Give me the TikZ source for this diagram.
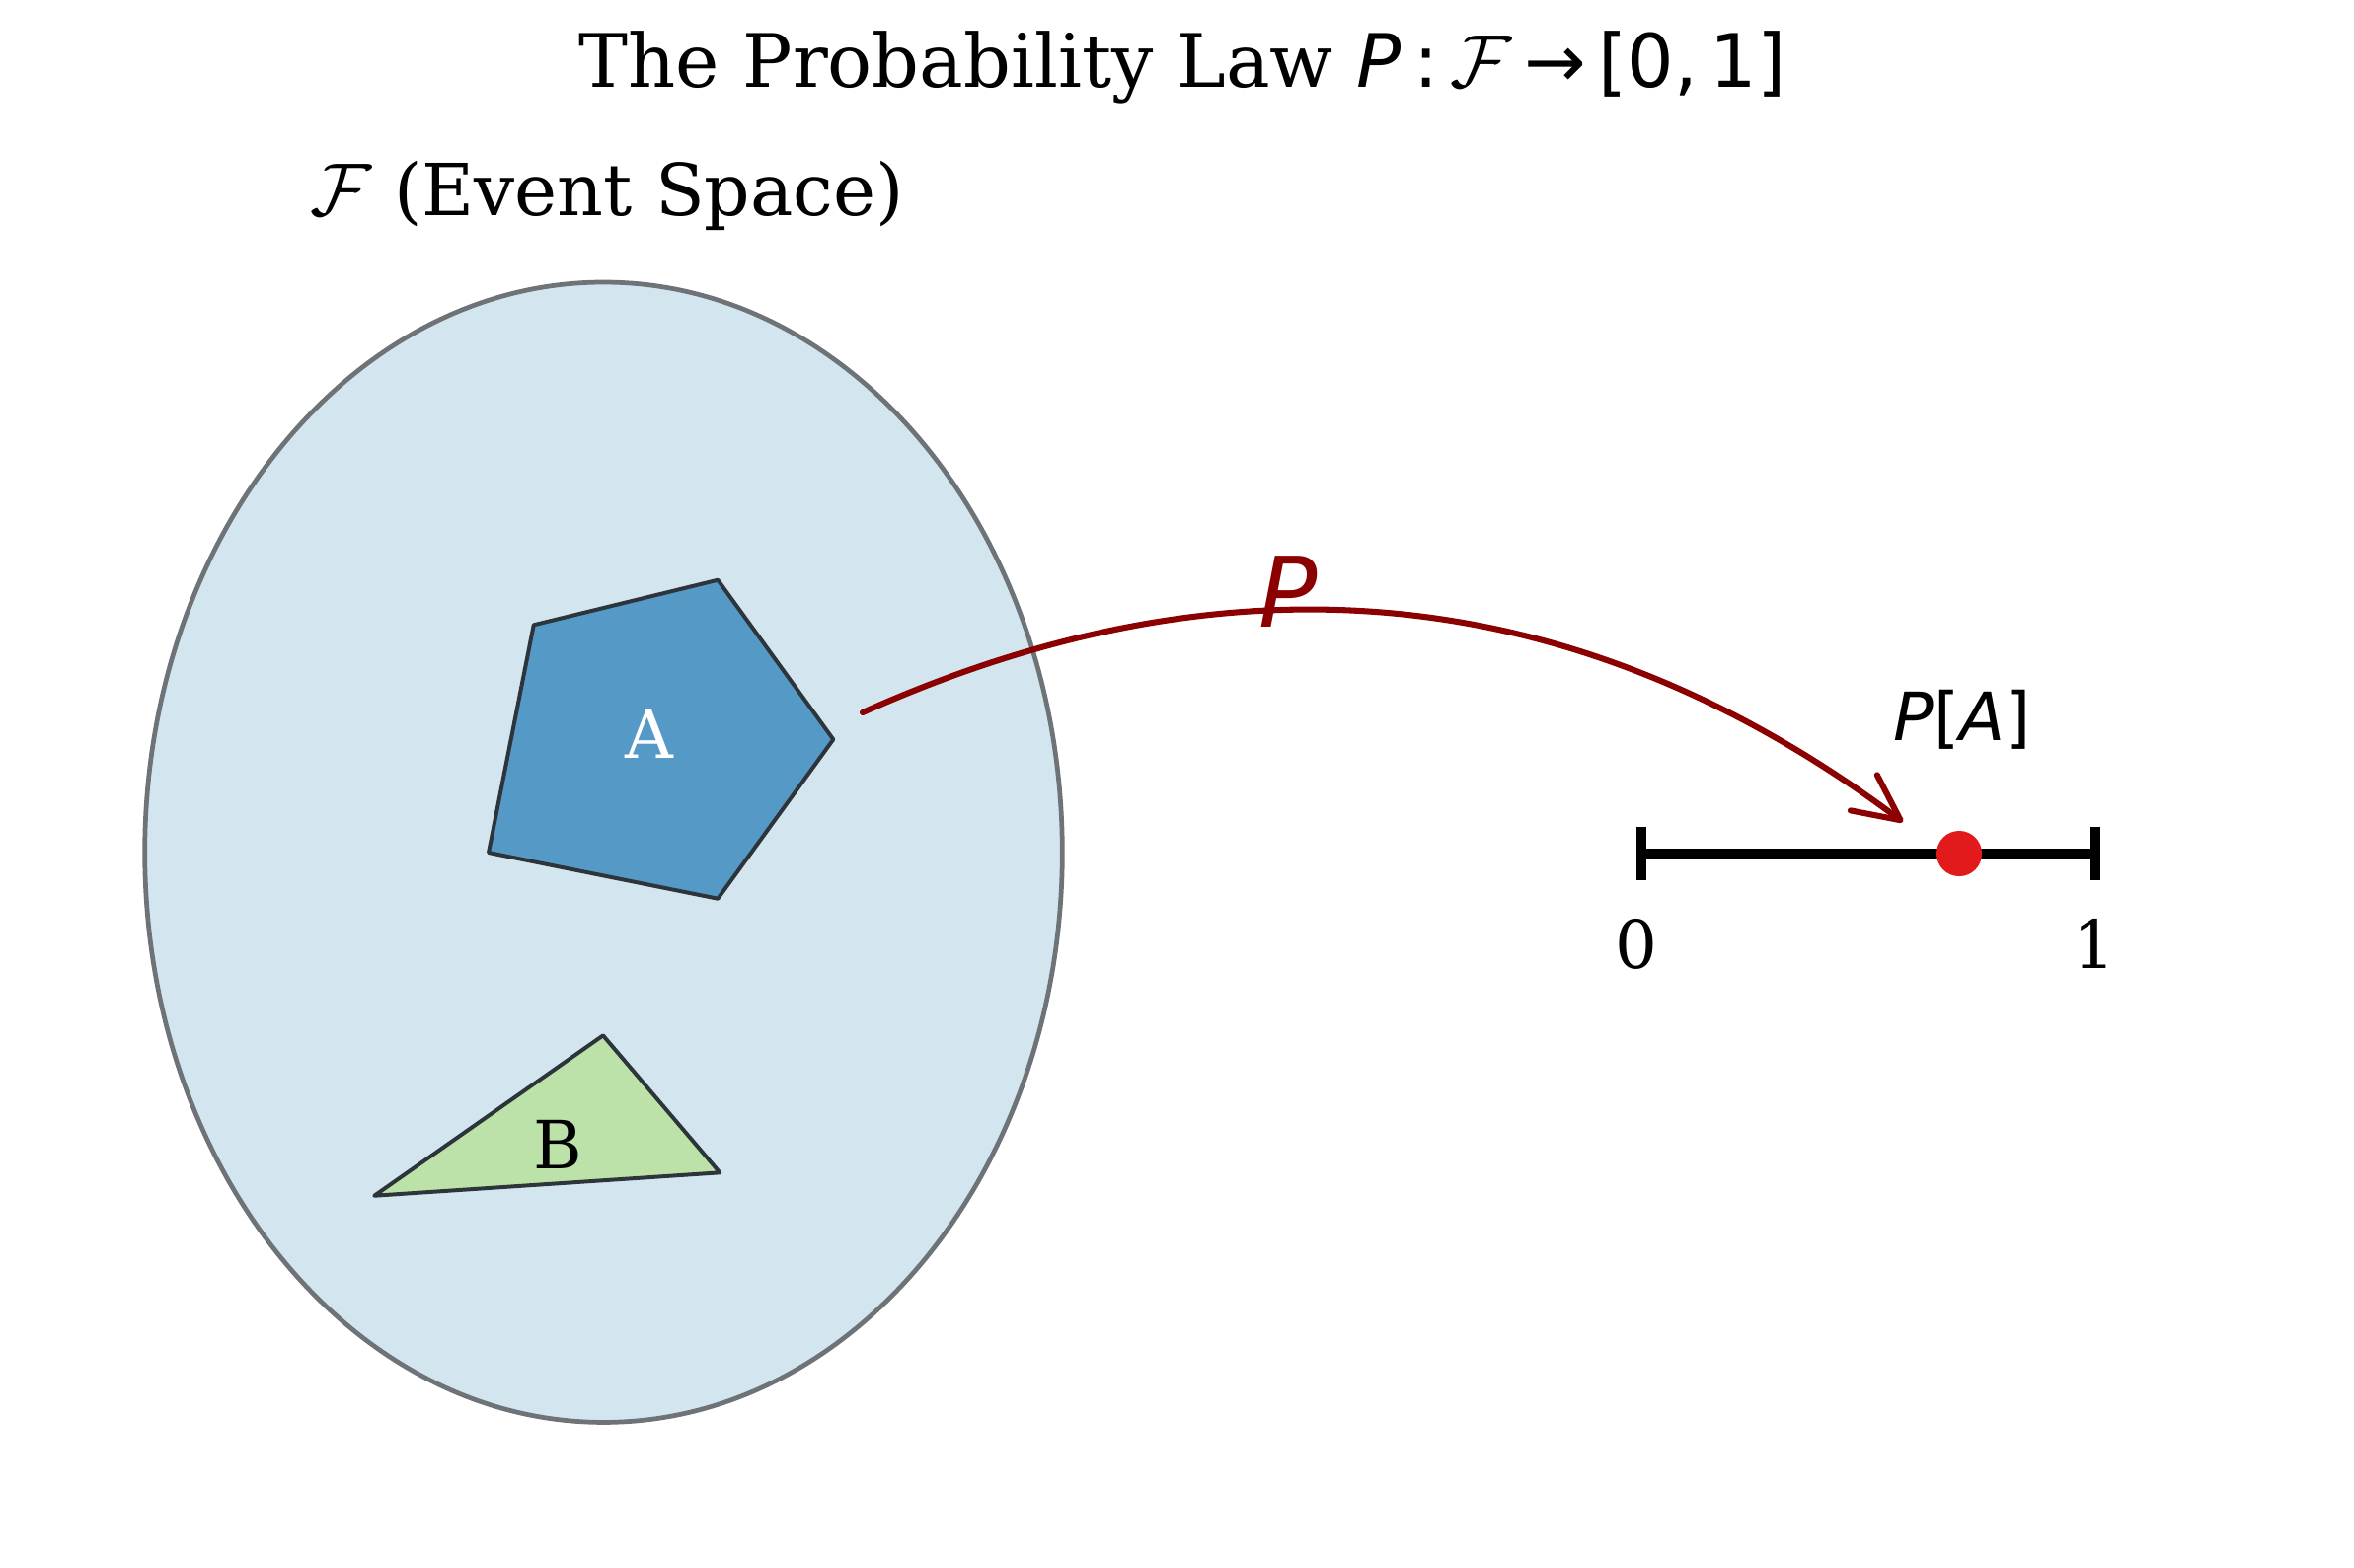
\documentclass[tikz,border=0pt]{standalone}
\usepackage{fontspec}
\setmainfont{DejaVu Serif}
\setsansfont{DejaVu Sans}
\usepackage{tikz}
\usetikzlibrary{arrows.meta}
\definecolor{spacefill}{RGB}{211,230,240}
\definecolor{spaceedge}{RGB}{110,115,120}
\definecolor{evtA}{RGB}{85,153,198}
\definecolor{evtB}{RGB}{188,225,169}
\definecolor{evtedge}{RGB}{45,52,58}
\definecolor{lawred}{RGB}{139,0,0}
\definecolor{dotred}{RGB}{227,26,28}
\tikzstyle{bigtext}=[font=\fontsize{13.8}{16}\selectfont, anchor=base]
\tikzstyle{lbltext}=[font=\fontsize{12.8}{15}\selectfont, anchor=base]
\tikzstyle{space}=[fill=spacefill, draw=spaceedge, line width=0.9pt]
\tikzstyle{event}=[draw=evtedge, line width=0.75pt, line join=round]
\tikzstyle{law}=[draw=lawred, line width=1.15pt, line cap=round,
  -{Straight Barb[length=3.1mm,width=3mm,round]}]
\tikzstyle{unitline}=[draw=black, line width=1.8pt,
  {Bar[width=3.6mm]}-{Bar[width=3.6mm]}]
\tikzstyle{dot}=[circle, fill=dotred, inner sep=0pt, minimum size=3.07mm]
\newcommand{\sfit}[1]{{\sffamily\itshape #1}}

\begin{document}
\begin{tikzpicture}[x=0.0066667cm, y=-0.0066667cm]
  \useasboundingbox (0,0) rectangle (2385,1588);

  % Draw titles
  \node (title) [bigtext, font=\fontsize{14.2}{17}\selectfont] at (1198,88)
    {The Probability Law \sfit{P}{\sffamily\,:\,}$\mathcal{F}${\sffamily\,→\,[0,\,1]}};
  \node (spacetitle) [bigtext] at (615,218) {$\mathcal{F}$ (Event Space)};

  % Draw event space and the two events
  \path[space] (611.5,863.7) ellipse [x radius=464.8, y radius=577.7];
  \path[event, fill=evtA] (540.7,633.3) -- (727.3,587.7) -- (844.3,749.3)
    -- (727.3,910.7) -- (495,864) -- cycle;
  \path[event, fill=evtB] (379.3,1211.7) -- (611,1049.3) -- (729.3,1188.3) -- cycle;
  \node (evA) [lbltext, text=white] at (658.3,768.3) {A};
  \node (evB) [lbltext] at (565,1184) {B};

  % Draw unit interval
  \coordinate (zero) at (1658,865);
  \coordinate (one) at (2127.6,865);
  \path [unitline] (zero) -- (one);
  \node (pa) [dot] at (1985,865) {};
  \node (zerolbl) [lbltext] at (1658,981.7) {0};
  \node (onelbl) [lbltext] at (2122,981.7) {1};
  \node (palbl) [lbltext] at (1988.5,750) {\sfit{P}{\sffamily[}\sfit{A}{\sffamily]}};

  % Draw the map P
  \coordinate (lawstart) at (874,722);
  \coordinate (lawend) at (1928,833);
  \path [law] (lawstart) .. controls (1251.3,552.7) and (1602.7,589.7) .. (lawend);
  \node (lawlbl) [anchor=base, text=lawred, font=\fontsize{18.7}{22}\selectfont]
    at (1305,635) {\sfit{P}};
\end{tikzpicture}
\end{document}
